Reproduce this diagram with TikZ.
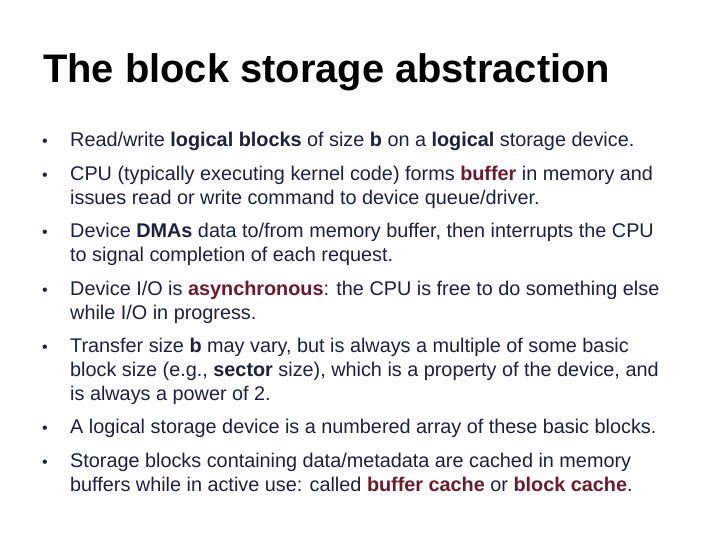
\documentclass[tikz,border=0pt]{standalone}
\usepackage{fontspec}
\setmainfont{Liberation Sans}
\definecolor{txt}{HTML}{1B2140}
\definecolor{mar}{HTML}{6E1A2C}
\begin{document}
\begin{tikzpicture}[x=1bp,y=-1bp,
  ln/.style={anchor=base west,inner sep=0pt,text=txt,font=\fontsize{19.9}{20}\selectfont},
  bul/.style={anchor=base west,inner sep=0pt,text=txt,font=\fontsize{16}{16}\selectfont}]
\useasboundingbox[fill=white] (0,0) rectangle (720,540);
\node[anchor=base west,inner sep=0pt,text=black,font=\fontsize{40}{40}\selectfont\bfseries] (title) at (43,83) {The block storage abstraction};
\newcommand\hl[1]{\textbf{#1}}
\newcommand\mr[1]{\textcolor{mar}{\textbf{#1}}}
\foreach \y/\n in {147/b1,181/b2,238/b3,295/b4,352/b5,433/b6,467/b7}{
  \node[bul] (\n) at (42,\y) {•};}
\node[ln] (l1) at (70,147) {Read/write \hl{logical blocks} of size \hl{b} on a \hl{logical} storage device.};
\node[ln] (l2) at (70,181) {CPU (typically executing kernel code) forms \mr{buffer} in memory and};
\node[ln] (l3) at (70,205) {issues read or write command to device queue/driver.};
\node[ln] (l4) at (70,238) {Device \hl{DMAs} data to/from memory buffer, then interrupts the CPU};
\node[ln] (l5) at (70,262) {to signal completion of each request.};
\node[ln] (l6) at (70,295) {Device I/O is \mr{asynchronous}: the CPU is free to do something else};
\node[ln] (l7) at (70,319) {while I/O in progress.};
\node[ln] (l8) at (70,352) {Transfer size \hl{b} may vary, but is always a multiple of some basic};
\node[ln] (l9) at (70,376) {block size (e.g., \hl{sector} size), which is a property of the device, and};
\node[ln] (l10) at (70,400) {is always a power of 2.};
\node[ln] (l11) at (70,433) {A logical storage device is a numbered array of these basic blocks.};
\node[ln] (l12) at (70,467) {Storage blocks containing data/metadata are cached in memory};
\node[ln] (l13) at (70,491) {buffers while in active use: called \mr{buffer cache} or \mr{block cache}.};
\end{tikzpicture}
\end{document}
